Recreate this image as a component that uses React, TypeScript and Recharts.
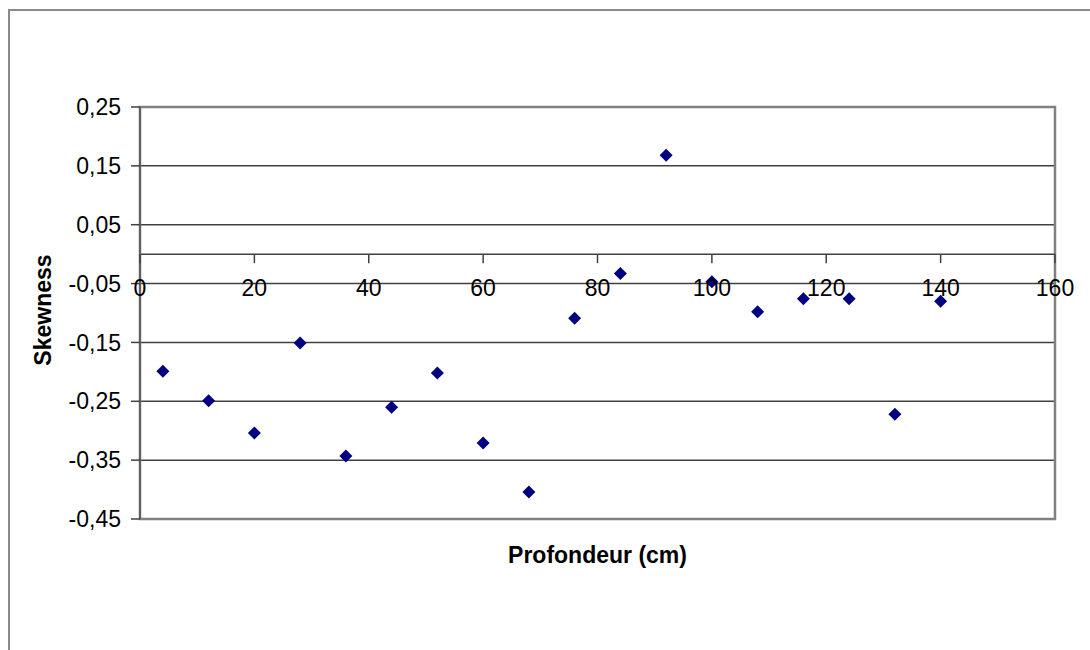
import React from "react";
import {
  ScatterChart,
  Scatter,
  XAxis,
  YAxis,
  CartesianGrid,
  ReferenceLine,
  ReferenceArea,
} from "recharts";

const depths = [4, 12, 20, 28, 36, 44, 52, 60, 68, 76, 84, 92, 100, 108, 116, 124, 132, 140];
const skewness = [
  -0.199, -0.249, -0.304, -0.151, -0.343, -0.26, -0.202, -0.321, -0.404,
  -0.109, -0.033, 0.168, -0.047, -0.098, -0.076, -0.076, -0.272, -0.08,
];
const xTicks = [0, 20, 40, 60, 80, 100, 120, 140, 160];
const yTicks = [0.25, 0.15, 0.05, -0.05, -0.15, -0.25, -0.35, -0.45];

const X_MIN = 0;
const X_MAX = 160;
const Y_MIN = -0.45;
const Y_MAX = 0.25;

const W = 1090;
const H = 650;
const PLOT_TOP = 107;
const PLOT_BOTTOM = 519;
const PLOT_H = PLOT_BOTTOM - PLOT_TOP;
const X_AXIS_H = 20;
// pixel row where y = 0 (the x axis crosses there)
const ZERO_Y = PLOT_TOP + (PLOT_H * (Y_MAX - 0)) / (Y_MAX - Y_MIN);

const FONT = "'Liberation Sans', Arial, sans-serif";
const MARKER = "#000080";

const data = depths.map((d, i) => ({ depth: d, skew: skewness[i] }));

const fmt = (v: number) => v.toFixed(2).replace(".", ",");

function XTick(props: any) {
  const { x, payload } = props;
  return (
    <g>
      <line x1={x} x2={x} y1={ZERO_Y} y2={ZERO_Y + 9} stroke="#404040" strokeWidth={1.5} />
      <text
        x={x}
        y={ZERO_Y + 34}
        textAnchor="middle"
        dominantBaseline="central"
        fontSize={23}
        fontFamily={FONT}
        fill="#000"
      >
        {payload.value}
      </text>
    </g>
  );
}

function Diamond(props: any) {
  const { cx, cy } = props;
  const r = 6.5;
  return (
    <path
      d={`M${cx},${cy - r} L${cx + r},${cy} L${cx},${cy + r} L${cx - r},${cy} Z`}
      fill={MARKER}
    />
  );
}

function YTitle(props: any) {
  const vb = props.viewBox || { x: 0, y: PLOT_TOP, height: PLOT_H };
  const cx = vb.x + 43;
  const cy = vb.y + vb.height / 2 - 3;
  return (
    <text
      x={cx}
      y={cy}
      transform={`rotate(-90 ${cx} ${cy})`}
      textAnchor="middle"
      dominantBaseline="central"
      fontSize={23}
      fontWeight="bold"
      fontFamily={FONT}
      fill="#000"
    >
      Skewness
    </text>
  );
}

export default function App() {
  return (
    <div
      style={{
        position: "absolute",
        left: 0,
        top: 0,
        width: W,
        height: H,
        background: "#fff",
        overflow: "hidden",
      }}
    >
      <div
        style={{
          position: "absolute",
          left: 8,
          top: 9,
          width: W + 40,
          height: H + 40,
          border: "2px solid #8a8a8a",
        }}
      />
      <div style={{ position: "absolute", left: 0, top: 0 }}>
        <ScatterChart
          width={W}
          height={H}
          margin={{ top: PLOT_TOP, right: 35, bottom: H - PLOT_BOTTOM - X_AXIS_H, left: 0 }}
        >
          <CartesianGrid
            vertical={false}
            horizontalValues={yTicks}
            stroke="#404040"
            strokeWidth={1.5}
          />
          <ReferenceArea
            x1={X_MIN}
            x2={X_MAX}
            y1={Y_MIN}
            y2={Y_MAX}
            fill="none"
            stroke="#808080"
            strokeWidth={2.5}
            ifOverflow="visible"
          />
          <ReferenceLine y={0} stroke="#404040" strokeWidth={1.5} />
          <XAxis
            type="number"
            dataKey="depth"
            domain={[X_MIN, X_MAX]}
            ticks={xTicks}
            height={X_AXIS_H}
            axisLine={false}
            tickLine={false}
            tick={(p: any) => <XTick {...p} />}
            interval={0}
            allowDataOverflow
          />
          <YAxis
            type="number"
            dataKey="skew"
            domain={[Y_MIN, Y_MAX]}
            ticks={yTicks}
            width={140}
            interval={0}
            tickFormatter={fmt}
            axisLine={{ stroke: "#606060", strokeWidth: 2 }}
            tickLine={{ stroke: "#404040", strokeWidth: 1.5 }}
            tickSize={9}
            tickMargin={10}
            tick={{ fontSize: 23, fontFamily: FONT, fill: "#000" }}
            allowDataOverflow
            label={<YTitle />}
          />
          <Scatter data={data} fill={MARKER} shape={<Diamond />} isAnimationActive={false} />
        </ScatterChart>
      </div>
      <div
        style={{
          position: "absolute",
          left: 140,
          width: 915,
          top: 542,
          textAlign: "center",
          fontSize: 23,
          fontWeight: "bold",
          fontFamily: FONT,
          color: "#000",
        }}
      >
        Profondeur (cm)
      </div>
    </div>
  );
}
